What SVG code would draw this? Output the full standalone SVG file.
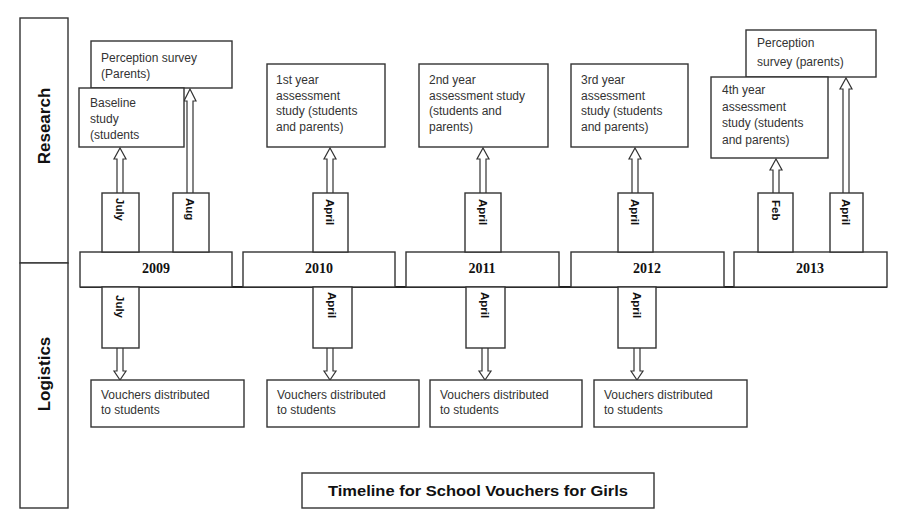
<svg xmlns="http://www.w3.org/2000/svg" width="906" height="527" viewBox="0 0 906 527">
<style>
.bx{fill:#fff;stroke:#333;stroke-width:1.4}
.ar{fill:#fff;stroke:#333;stroke-width:1.2}
.t{font-family:"Liberation Sans",Arial,sans-serif;font-size:12px;fill:#333}
.m{font-family:"Liberation Sans",Arial,sans-serif;font-size:11.5px;font-weight:bold;fill:#111}
.y{font-family:"Liberation Serif","Times New Roman",serif;font-size:14px;font-weight:bold;fill:#111;text-anchor:middle}
.h{font-family:"Liberation Sans",Arial,sans-serif;font-size:17px;font-weight:bold;fill:#111;text-anchor:middle}
</style>
<rect width="906" height="527" fill="#fff"/>
<g id="lane-research"><rect class="bx" x="20" y="18" width="48" height="245"/><text class="h" transform="translate(50,126) rotate(-90)">Research</text></g>
<g id="lane-logistics"><rect class="bx" x="20" y="263" width="48" height="245"/><text class="h" transform="translate(50,374) rotate(-90)">Logistics</text></g>

<g id="connectors">
<line x1="80" y1="287" x2="887" y2="287" stroke="#222" stroke-width="2.2"/>
<path class="ar" d="M117,193 V159 H114 L120,148 L126,159 H123 V193"/>
<path class="ar" d="M187,193 V101 H184 L190,89 L196,101 H193 V193"/>
<path class="ar" d="M327,193 V159 H324 L330,148 L336,159 H333 V193"/>
<path class="ar" d="M480,193 V159 H477 L483,148 L489,159 H486 V193"/>
<path class="ar" d="M632,193 V159 H629 L635,148 L641,159 H638 V193"/>
<path class="ar" d="M773,193 V170 H770 L776,159 L782,170 H779 V193"/>
<path class="ar" d="M843,193 V89 H840 L846,78 L852,89 H849 V193"/>
<path class="ar" d="M117,348 V371 H114 L120,380 L126,371 H123 V348"/>
<path class="ar" d="M327,348 V371 H324 L330,380 L336,371 H333 V348"/>
<path class="ar" d="M482,348 V371 H479 L485,380 L491,371 H488 V348"/>
<path class="ar" d="M634,348 V371 H631 L637,380 L643,371 H640 V348"/>
</g>

<g id="year-2009"><rect class="bx" x="80" y="252" width="152" height="35"/><text class="y" x="156" y="273">2009</text></g>
<g id="year-2010"><rect class="bx" x="243" y="252" width="152" height="35"/><text class="y" x="319" y="273">2010</text></g>
<g id="year-2011"><rect class="bx" x="406" y="252" width="153" height="35"/><text class="y" x="482" y="273">2011</text></g>
<g id="year-2012"><rect class="bx" x="571" y="252" width="153" height="35"/><text class="y" x="647" y="273">2012</text></g>
<g id="year-2013"><rect class="bx" x="734" y="252" width="153" height="35"/><text class="y" x="810" y="273">2013</text></g>

<g id="r-july-2009"><rect class="bx" x="102" y="193" width="37" height="59"/><text class="m" transform="translate(116,198) rotate(90)">July</text></g>
<g id="r-aug-2009"><rect class="bx" x="173" y="193" width="36" height="59"/><text class="m" transform="translate(186,198) rotate(90)">Aug</text></g>
<g id="r-april-2010"><rect class="bx" x="313" y="193" width="35" height="59"/><text class="m" transform="translate(326,199) rotate(90)">April</text></g>
<g id="r-april-2011"><rect class="bx" x="465" y="193" width="36" height="59"/><text class="m" transform="translate(479,199) rotate(90)">April</text></g>
<g id="r-april-2012"><rect class="bx" x="618" y="193" width="35" height="59"/><text class="m" transform="translate(631,199) rotate(90)">April</text></g>
<g id="r-feb-2013"><rect class="bx" x="758" y="193" width="35" height="59"/><text class="m" transform="translate(772,200) rotate(90)">Feb</text></g>
<g id="r-april-2013"><rect class="bx" x="830" y="193" width="33" height="59"/><text class="m" transform="translate(842,199) rotate(90)">April</text></g>

<g id="perception-2009"><rect class="bx" x="91" y="41" width="141" height="47"/><text class="t" x="101" y="62">Perception survey</text><text class="t" x="101" y="78">(Parents)</text></g>
<g id="baseline-2009"><rect class="bx" x="79" y="88" width="105" height="59"/><text class="t" x="90" y="107">Baseline</text><text class="t" x="90" y="123">study</text><text class="t" x="90" y="139">(students</text></g>
<g id="study-2010"><rect class="bx" x="267" y="64" width="118" height="83"/><text class="t" x="276" y="84">1st year</text><text class="t" x="276" y="99.5">assessment</text><text class="t" x="276" y="115">study (students</text><text class="t" x="276" y="131">and parents)</text></g>
<g id="study-2011"><rect class="bx" x="419" y="64" width="129" height="83"/><text class="t" x="429" y="84">2nd year</text><text class="t" x="429" y="99.5">assessment study</text><text class="t" x="429" y="115">(students and</text><text class="t" x="429" y="131">parents)</text></g>
<g id="study-2012"><rect class="bx" x="571" y="64" width="117" height="83"/><text class="t" x="581" y="84">3rd year</text><text class="t" x="581" y="99.5">assessment</text><text class="t" x="581" y="115">study (students</text><text class="t" x="581" y="131">and parents)</text></g>
<g id="perception-2013"><rect class="bx" x="746" y="30" width="130" height="47"/><text class="t" x="757" y="47">Perception</text><text class="t" x="757" y="66">survey (parents)</text></g>
<g id="study-2013"><rect class="bx" x="711" y="77" width="117" height="81"/><text class="t" x="722" y="94">4th year</text><text class="t" x="722" y="111">assessment</text><text class="t" x="722" y="127">study (students</text><text class="t" x="722" y="144">and parents)</text></g>

<g id="l-july-2009"><rect class="bx" x="102" y="287" width="37" height="61"/><text class="m" transform="translate(116,295) rotate(90)">July</text></g>
<g id="l-april-2010"><rect class="bx" x="313" y="287" width="39" height="61"/><text class="m" transform="translate(328,292) rotate(90)">April</text></g>
<g id="l-april-2011"><rect class="bx" x="466" y="287" width="39" height="61"/><text class="m" transform="translate(481,292) rotate(90)">April</text></g>
<g id="l-april-2012"><rect class="bx" x="618" y="287" width="38" height="61"/><text class="m" transform="translate(633,292) rotate(90)">April</text></g>

<g id="vouchers-2009"><rect class="bx" x="91" y="380" width="153" height="47"/><text class="t" x="101" y="399">Vouchers distributed</text><text class="t" x="101" y="414">to students</text></g>
<g id="vouchers-2010"><rect class="bx" x="267" y="380" width="152" height="47"/><text class="t" x="277" y="399">Vouchers distributed</text><text class="t" x="277" y="414">to students</text></g>
<g id="vouchers-2011"><rect class="bx" x="430" y="380" width="152" height="47"/><text class="t" x="440" y="399">Vouchers distributed</text><text class="t" x="440" y="414">to students</text></g>
<g id="vouchers-2012"><rect class="bx" x="594" y="380" width="153" height="47"/><text class="t" x="604" y="399">Vouchers distributed</text><text class="t" x="604" y="414">to students</text></g>

<g id="title"><rect class="bx" x="302" y="473" width="352" height="35"/><text x="478" y="496" text-anchor="middle" font-family="'Liberation Sans',Arial,sans-serif" font-size="15" font-weight="bold" fill="#111" textLength="300" lengthAdjust="spacingAndGlyphs">Timeline for School Vouchers for Girls</text></g>
</svg>
